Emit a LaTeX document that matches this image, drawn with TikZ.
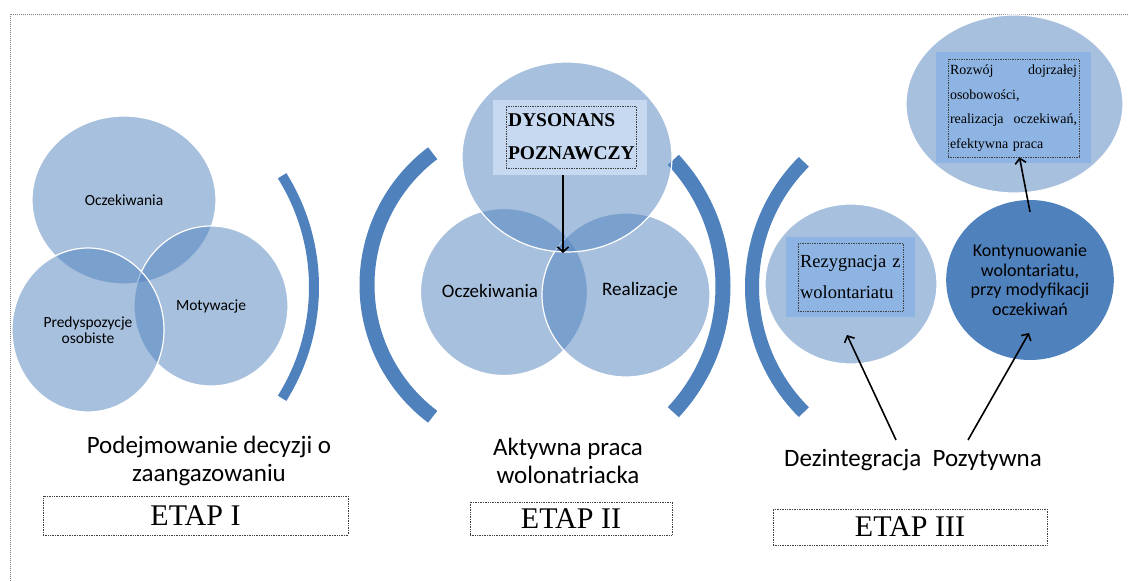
\documentclass[tikz,border=0pt]{standalone}
\usepackage{fontspec}
\setmainfont{Carlito}
\newfontfamily\timesrm{Liberation Serif}
\usepackage{tikz}
\usetikzlibrary{shapes.geometric,arrows.meta}
\definecolor{etapblue}{HTML}{4F81BD}
\definecolor{boxlight}{HTML}{C6D9F1}
\definecolor{boxmid}{HTML}{8EB4E3}

\begin{document}
\begin{tikzpicture}[x=1pt,y=-1pt,
  bubble/.style={ellipse,inner sep=0pt,draw=white,line width=1.2pt,
    fill=etapblue,fill opacity=0.5,text opacity=1,align=center},
  band/.style={draw=etapblue,line width=#1},
  dotbox/.style={draw=black!75,densely dotted,line width=0.7pt,inner sep=2pt},
  arr/.style={-{Straight Barb[length=5pt,width=11pt]},line width=1.6pt},
  small/.style={font=\fontsize{15.5}{16}\selectfont},
  lbl/.style={font=\fontsize{19}{22}\selectfont},
  caption/.style={font=\fontsize{25}{28}\selectfont,align=center},
  etap/.style={dotbox,inner sep=1pt,font=\timesrm\fontsize{30}{32}\selectfont}]
  \useasboundingbox (0,0) rectangle (1128,581);
  \draw[gray,densely dotted,line width=1pt] (10,581) -- (10,14) -- (1128,14);

  \draw[band=10pt] (104,287) ++(-32:210) arc[start angle=-32,end angle=32,radius=210];
  \draw[band=15pt] (532,285) ++(127:165) arc[start angle=127,end angle=233,radius=165];
  \draw[band=15pt] (538,286) ++(-43:185) arc[start angle=-43,end angle=43,radius=185];
  \draw[band=14pt] (929,287) ++(135:177) arc[start angle=135,end angle=225,radius=177];

  \node[bubble,small,minimum width=184pt,minimum height=168pt] (oczI) at (124,200) {Oczekiwania};
  \node[bubble,small,minimum width=154pt,minimum height=160pt] (motI) at (211,306) {Motywacje};
  \node[bubble,small,minimum width=152pt,minimum height=164pt] (predI) at (88,330) {Predyspozycje\\osobiste};

  \node[bubble,minimum width=167pt,minimum height=167pt] (oczII) at (504,292) {};
  \node[bubble,minimum width=168pt,minimum height=164pt] (realII) at (626,295) {};
  \node[bubble,minimum width=210pt,minimum height=190pt] (dysII) at (567,157) {};
  \node[lbl] (oczIItxt) at (490,291) {Oczekiwania};
  \node[lbl] (realIItxt) at (640,291) {Realizacje};
  \node[fill=boxlight,minimum width=154pt,minimum height=75pt] (dysbox) at (570,137.5) {};
  \node[dotbox,minimum width=130pt,minimum height=62pt,text width=126pt,align=left,
    font=\timesrm\bfseries\fontsize{19.5}{33}\selectfont] (dystxt) at (571,137) {DYSONANS\\POZNAWCZY};
  \coordinate (dysTip) at (563,253);
  \draw[arr] (dysTip |- dysbox.south) -- (dysTip);

  \node[bubble,minimum width=172pt,minimum height=160pt] (rezIII) at (851,284) {};
  \node[fill=boxmid,minimum width=129pt,minimum height=80pt] (rezbox) at (850.5,277) {};
  \node[dotbox,minimum width=105pt,minimum height=68pt,text width=101pt,align=left,
    font=\timesrm\fontsize{18.5}{31}\selectfont] (reztxt) at (850.5,277) {Rezygnacja z\\wolontariatu};
  \node[ellipse,inner sep=0pt,fill=etapblue,minimum width=160pt,minimum height=160pt,
    align=center,font=\fontsize{18}{19.5}\selectfont]
    (kontIII) at (1030,280) {Kontynuowanie\\wolontariatu,\\przy modyfikacji\\oczekiwań};
  \node[bubble,minimum width=217pt,minimum height=178pt] (rozIII) at (1014.5,104) {};
  \node[fill=boxmid,minimum width=155pt,minimum height=111pt] (rozbox) at (1013.5,107.5) {};
  \node[dotbox,minimum width=131pt,minimum height=98pt,text width=127pt,align=left,
    font=\timesrm\fontsize{14}{24.5}\selectfont] (roztxt) at (1013.5,108)
    {Rozwój \hfill dojrzałej\\osobowości,\\realizacja \hfill oczekiwań,\\efektywna praca};
  \draw[arr] ([yshift=-12pt]kontIII.north) -- ([xshift=6pt]roztxt.south);

  \node[caption] (capI) at (209,461) {Podejmowanie decyzji o\\zaangazowaniu};
  \node[caption] (capII) at (568,461) {Aktywna praca\\wolonatriacka};
  \node[caption] (capIII) at (913,460) {Dezintegracja\ \ Pozytywna};
  \coordinate (dezL) at (896,440);
  \coordinate (dezR) at (968,440);
  \coordinate (rezTip) at (847,335);
  \coordinate (kontTip) at (1029,333);
  \draw[arr] (dezL) -- (rezTip);
  \draw[arr] (dezR) -- (kontTip);

  \node[etap,minimum width=305pt,minimum height=39pt] (etapI) at (195.5,515.5) {ETAP I};
  \node[etap,minimum width=202pt,minimum height=33pt] (etapII) at (571,518.5) {ETAP II};
  \node[etap,minimum width=274pt,minimum height=36pt] (etapIII) at (910,527) {ETAP III};
\end{tikzpicture}
\end{document}
